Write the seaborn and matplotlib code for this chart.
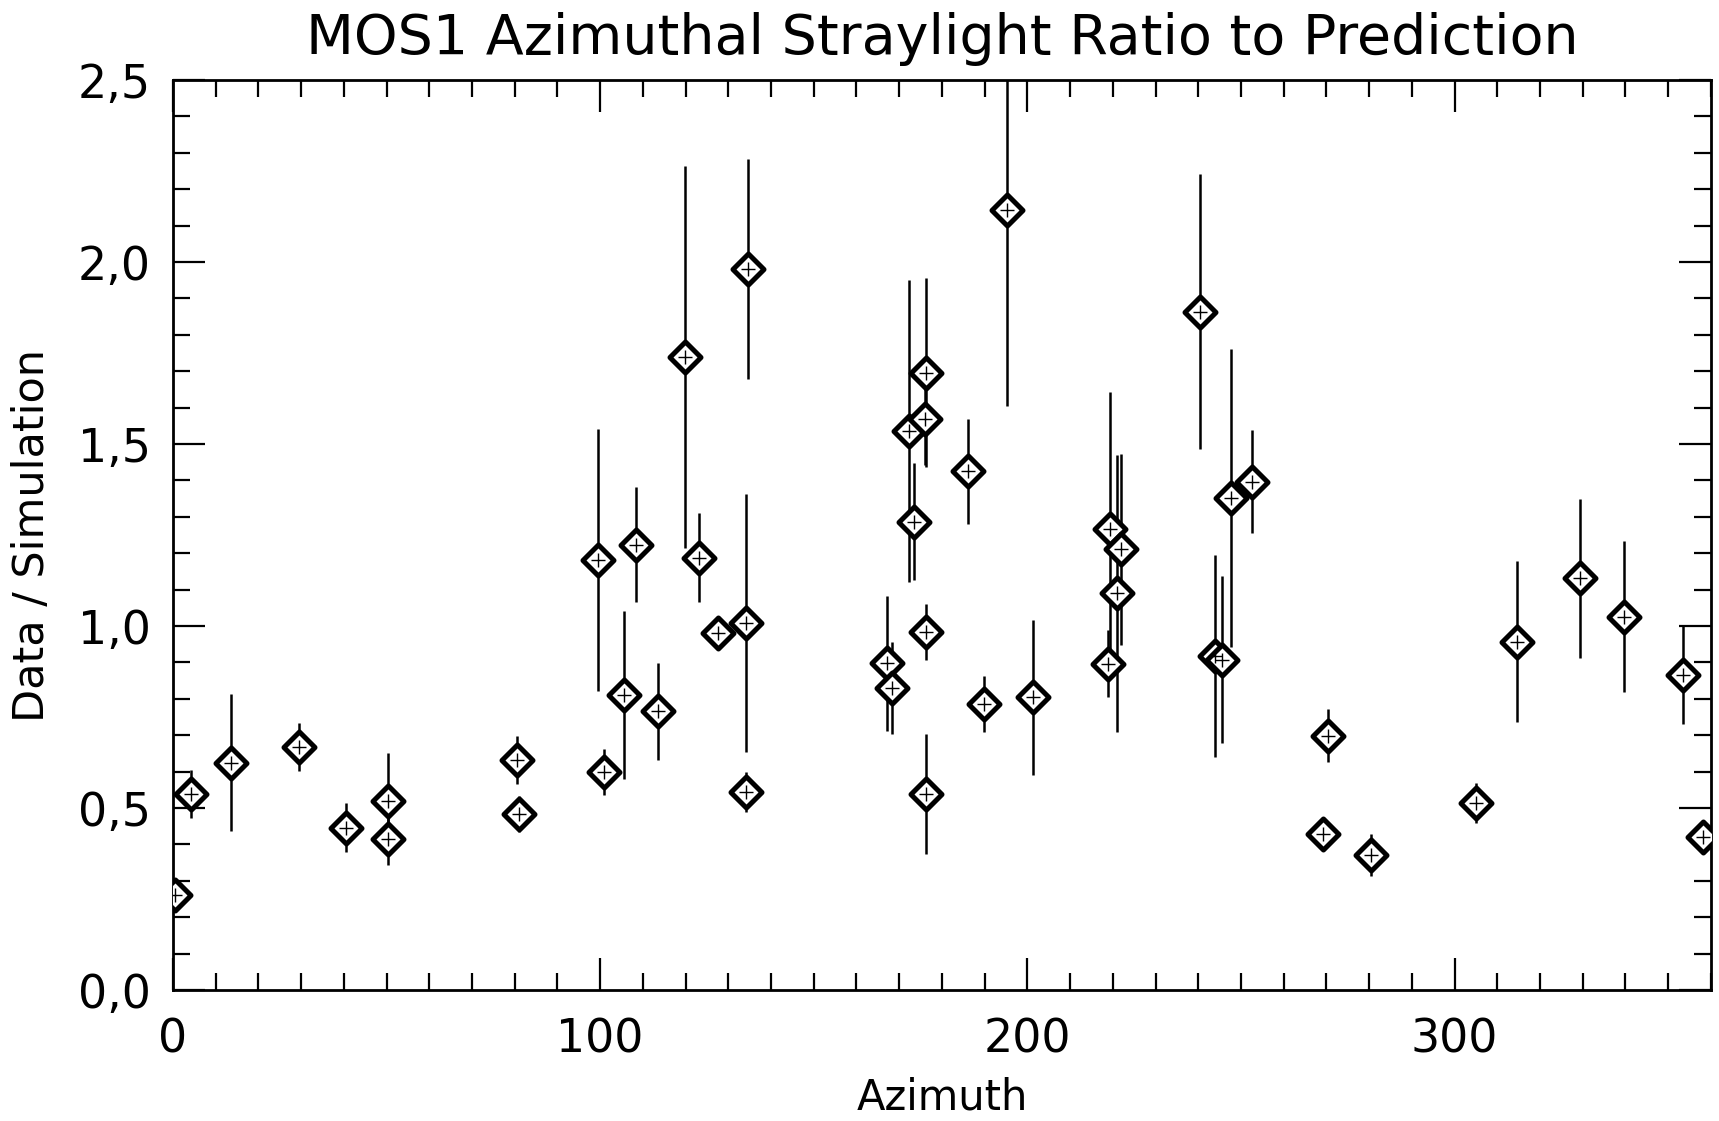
import pandas as pd
import seaborn as sns
import matplotlib.pyplot as plt
from matplotlib.ticker import MultipleLocator, FuncFormatter

# 方位角ごとの比 (データ / シミュレーション) と誤差
azimuth = [0.6, 4.2, 13.5, 29.4, 40.4, 50.4, 50.4, 80.6, 80.9, 99.4,
           101.0, 105.6, 108.3, 113.5, 119.9, 123.1, 127.6, 134.5, 134.1, 134.1,
           167.2, 168.2, 172.4, 173.5, 176.2, 176.1, 176.2, 176.2, 186.2, 189.8,
           195.3, 201.4, 218.8, 219.3, 220.9, 221.8, 240.3, 244.0, 245.6, 247.7,
           252.5, 269.3, 270.4, 280.4, 305.1, 314.5, 329.4, 339.7, 353.4, 358.2]
ratio = [0.26, 0.538, 0.625, 0.669, 0.446, 0.520, 0.415, 0.632, 0.484, 1.181,
         0.599, 0.810, 1.224, 0.766, 1.740, 1.188, 0.982, 1.981, 1.008, 0.543,
         0.898, 0.829, 1.536, 1.287, 1.696, 1.568, 0.984, 0.538, 1.425, 0.786,
         2.144, 0.804, 0.897, 1.268, 1.090, 1.211, 1.864, 0.918, 0.908, 1.352,
         1.397, 0.428, 0.699, 0.371, 0.514, 0.957, 1.131, 1.026, 0.865, 0.421]
ratio_err = [0.03, 0.066, 0.188, 0.066, 0.067, 0.13, 0.072, 0.067, 0.05, 0.36,
             0.063, 0.23, 0.158, 0.133, 0.525, 0.123, 0.03, 0.303, 0.355, 0.055,
             0.185, 0.126, 0.415, 0.16, 0.26, 0.126, 0.076, 0.165, 0.145, 0.078,
             0.54, 0.212, 0.092, 0.376, 0.38, 0.262, 0.378, 0.277, 0.23, 0.41,
             0.142, 0.03, 0.073, 0.058, 0.054, 0.221, 0.219, 0.208, 0.134, 0.03]

df = pd.DataFrame({"Azimuth": azimuth, "Ratio": ratio, "Err": ratio_err})

sns.set_style("ticks")
plt.rcParams['font.family'] = ['DejaVu Sans']
plt.rcParams['text.color'] = 'black'
plt.rcParams['axes.labelcolor'] = 'black'
plt.rcParams['xtick.color'] = 'black'
plt.rcParams['ytick.color'] = 'black'

fig, ax = plt.subplots(figsize=(17.19, 11.21), dpi=100)
fig.subplots_adjust(left=0.1006, right=0.9953, bottom=0.1168, top=0.9286)

# 誤差棒 (キャップなし)
ax.errorbar(df["Azimuth"], df["Ratio"], yerr=df["Err"], fmt="none",
            ecolor="black", elinewidth=1.8, capsize=0, zorder=2)
# ダイヤ型シンボル
sns.scatterplot(data=df, x="Azimuth", y="Ratio", marker="D", s=250,
                color="white", edgecolor="black", linewidth=3.6,
                zorder=3, ax=ax, legend=False)
sns.scatterplot(data=df, x="Azimuth", y="Ratio", marker="+", s=90,
                color="black", linewidth=1.0, zorder=4, ax=ax, legend=False)

ax.set_xlim(0, 360)
ax.set_ylim(0, 2.5)
ax.xaxis.set_major_locator(MultipleLocator(100))
ax.xaxis.set_minor_locator(MultipleLocator(10))
ax.yaxis.set_major_locator(MultipleLocator(0.5))
ax.yaxis.set_minor_locator(MultipleLocator(0.1))
ax.yaxis.set_major_formatter(FuncFormatter(lambda v, p: f"{v:.1f}".replace(".", ",")))

ax.tick_params(which="both", direction="in", top=True, right=True, width=1.6, color="black")
ax.tick_params(which="major", length=23, labelsize=33)
ax.tick_params(axis="x", which="major", pad=20)
ax.tick_params(axis="y", which="major", pad=16)
ax.tick_params(which="minor", length=12)
for sp in ax.spines.values():
    sp.set_linewidth(2)
    sp.set_color("black")

ax.set_xlabel("Azimuth", fontsize=30, labelpad=10)
ax.set_ylabel("Data / Simulation", fontsize=31, labelpad=18)
ax.set_title("MOS1 Azimuthal Straylight Ratio to Prediction", fontsize=40, pad=19)

fig.savefig("out.png", dpi=100)
